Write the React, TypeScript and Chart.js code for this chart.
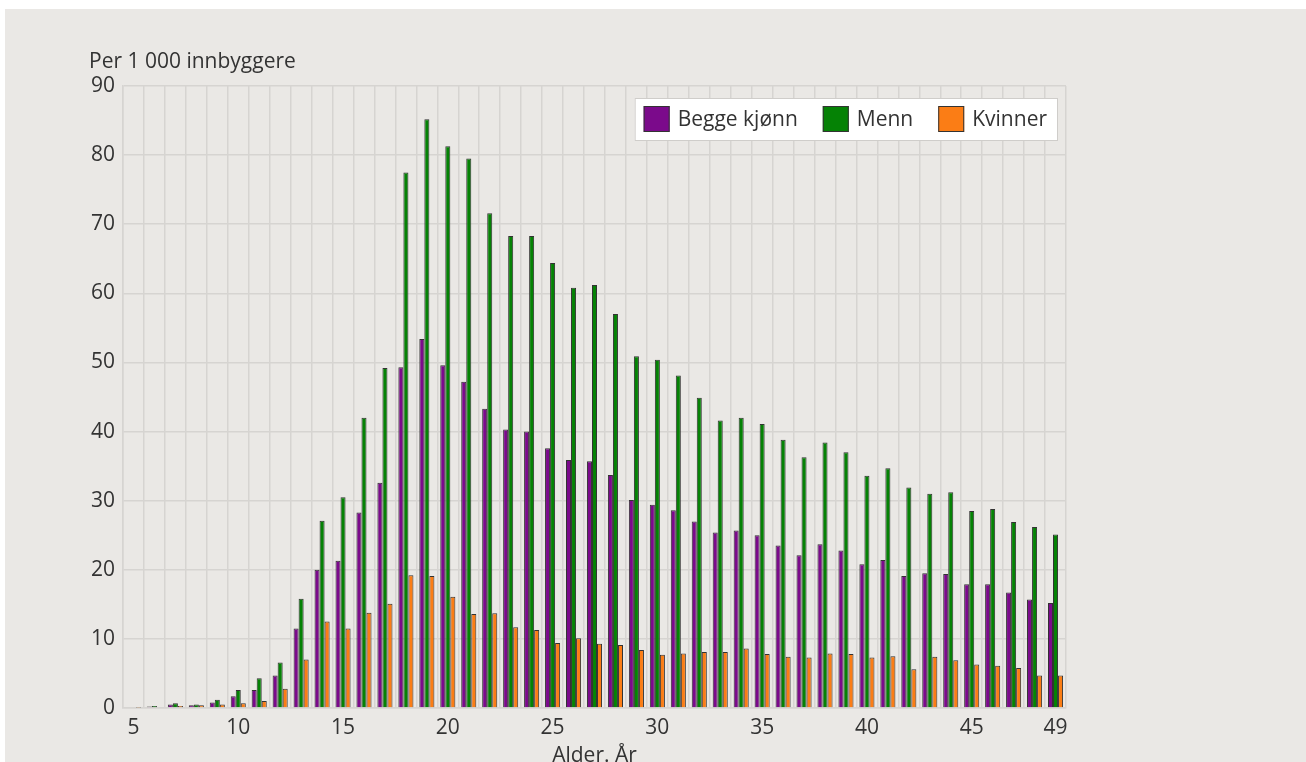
import React, { useEffect, useRef } from "react";
import { Chart, registerables } from "chart.js";

Chart.register(...registerables);

const ages = [5,6,7,8,9,10,11,12,13,14,15,16,17,18,19,20,21,22,23,24,25,26,27,28,29,30,31,32,33,34,35,36,37,38,39,40,41,42,43,44,45,46,47,48,49];
const labeledAges = [5, 10, 15, 20, 25, 30, 35, 40, 45, 49];

const beggeKjonn = [0.1,0.2,0.5,0.4,0.8,1.7,2.6,4.7,11.5,20.0,21.3,28.3,32.6,49.3,53.4,49.6,47.2,43.3,40.3,40.0,37.6,35.9,35.7,33.7,30.1,29.4,28.6,27.0,25.4,25.7,25.0,23.5,22.1,23.7,22.8,20.8,21.4,19.1,19.5,19.4,17.9,17.9,16.7,15.7,15.2];
const menn = [0.1,0.3,0.7,0.5,1.2,2.6,4.3,6.6,15.8,27.1,30.5,42.0,49.2,77.5,85.2,81.3,79.5,71.6,68.3,68.3,64.4,60.8,61.2,57.0,50.9,50.4,48.1,44.9,41.6,42.0,41.1,38.8,36.3,38.4,37.0,33.6,34.7,31.9,31.0,31.2,28.5,28.8,26.9,26.2,25.1];
const kvinner = [0.05,0.1,0.3,0.4,0.5,0.7,1.0,2.8,7.0,12.5,11.5,13.8,15.1,19.2,19.1,16.1,13.6,13.7,11.7,11.3,9.4,10.1,9.3,9.1,8.4,7.7,7.9,8.1,8.1,8.6,7.8,7.4,7.3,7.9,7.8,7.3,7.5,5.6,7.4,6.9,6.3,6.1,5.8,4.7,4.7];

const seriesNames = ["Begge kjønn", "Menn", "Kvinner"];
const yTitle = "Per 1 000 innbyggere";
const xTitle = "Alder. År";

const PURPLE = "#7b0a8b";
const GREEN = "#058205";
const ORANGE = "#fb7d15";
const FONT = '"Open Sans", sans-serif';
const FS = 21;
const TEXT = "#333333";
const GRID = "#d6d4d1";
const BG = "#eae8e5";

const bgPlugin = {
  id: "bgCard",
  beforeDraw(chart: any) {
    const { ctx, width, height } = chart;
    ctx.save();
    ctx.fillStyle = "#ffffff";
    ctx.fillRect(0, 0, width, height);
    ctx.fillStyle = BG;
    ctx.fillRect(5, 9, width - 5, height - 9);
    ctx.restore();
  },
};

const textPlugin = {
  id: "customText",
  afterDraw(chart: any) {
    const { ctx, chartArea } = chart;
    ctx.save();
    ctx.fillStyle = TEXT;
    ctx.font = `${FS}px ${FONT}`;
    ctx.textBaseline = "alphabetic";
    ctx.textAlign = "left";
    ctx.fillText(yTitle, 89, 68);
    ctx.textAlign = "center";
    ctx.fillText(xTitle, (chartArea.left + chartArea.right) / 2, 762);

    // legend
    const colors = [PURPLE, GREEN, ORANGE];
    const sw = 26, gapText = 8, gapItem = 25, padL = 9, padR = 11;
    const widths = seriesNames.map((n) => ctx.measureText(n).width);
    let total = padL + padR;
    widths.forEach((w, i) => {
      total += sw + gapText + w + (i < widths.length - 1 ? gapItem : 0);
    });
    const right = chartArea.right - 8;
    const left = right - total;
    const top = 98, h = 43;
    ctx.fillStyle = "#ffffff";
    ctx.fillRect(left, top, total, h);
    ctx.strokeStyle = "#cfcdca";
    ctx.lineWidth = 1;
    ctx.strokeRect(left + 0.5, top + 0.5, total - 1, h - 1);
    let x = left + padL;
    ctx.textAlign = "left";
    ctx.textBaseline = "middle";
    seriesNames.forEach((n, i) => {
      ctx.fillStyle = colors[i];
      ctx.fillRect(x, top + 8, sw, sw);
      ctx.strokeStyle = "#333333";
      ctx.strokeRect(x + 0.5, top + 8.5, sw - 1, sw - 1);
      x += sw + gapText;
      ctx.fillStyle = TEXT;
      ctx.fillText(n, x, top + h / 2 + 1);
      x += widths[i] + gapItem;
    });
    ctx.restore();
  },
};

export default function App() {
  const ref = useRef<HTMLCanvasElement | null>(null);
  useEffect(() => {
    if (!ref.current) return;
    const chart = new Chart(ref.current, {
      type: "bar",
      data: {
        labels: ages.map(String),
        datasets: [
          { label: seriesNames[0], data: beggeKjonn, backgroundColor: PURPLE, borderColor: "#333333", borderWidth: 1 },
          { label: seriesNames[1], data: menn, backgroundColor: GREEN, borderColor: "#333333", borderWidth: 1 },
          { label: seriesNames[2], data: kvinner, backgroundColor: ORANGE, borderColor: "#333333", borderWidth: 1 },
        ],
      },
      options: {
        responsive: false,
        animation: false,
        devicePixelRatio: 1,
        datasets: { bar: { categoryPercentage: 0.72, barPercentage: 1 } },
        layout: { padding: { left: 0, right: 240, top: 86, bottom: 0 } },
        plugins: {
          legend: { display: false },
          tooltip: { enabled: false },
          title: { display: false },
        },
        scales: {
          x: {
            grid: { color: GRID, lineWidth: 1.5, drawTicks: false, offset: true },
            border: { color: GRID, width: 1.5 },
            ticks: {
              autoSkip: false,
              maxRotation: 0,
              padding: 7,
              color: TEXT,
              font: { family: FONT, size: FS },
              callback: (_v: any, i: number) => (labeledAges.includes(ages[i]) ? String(ages[i]) : ""),
            },
            afterFit: (s: any) => { s.height = 54; },
          },
          y: {
            min: 0,
            max: 90,
            grid: { color: GRID, lineWidth: 1.5, drawTicks: false },
            border: { color: GRID, width: 1.5 },
            ticks: {
              stepSize: 10,
              padding: 8,
              color: TEXT,
              font: { family: FONT, size: FS },
            },
            afterFit: (s: any) => { s.width = 123; },
          },
        },
      },
      plugins: [bgPlugin, textPlugin],
    });
    return () => chart.destroy();
  }, []);
  return (
    <div style={{ position: "fixed", left: 0, top: 0, width: 1306, height: 762 }}>
      <canvas ref={ref} width={1306} height={762} style={{ width: 1306, height: 762, display: "block" }} />
    </div>
  );
}
